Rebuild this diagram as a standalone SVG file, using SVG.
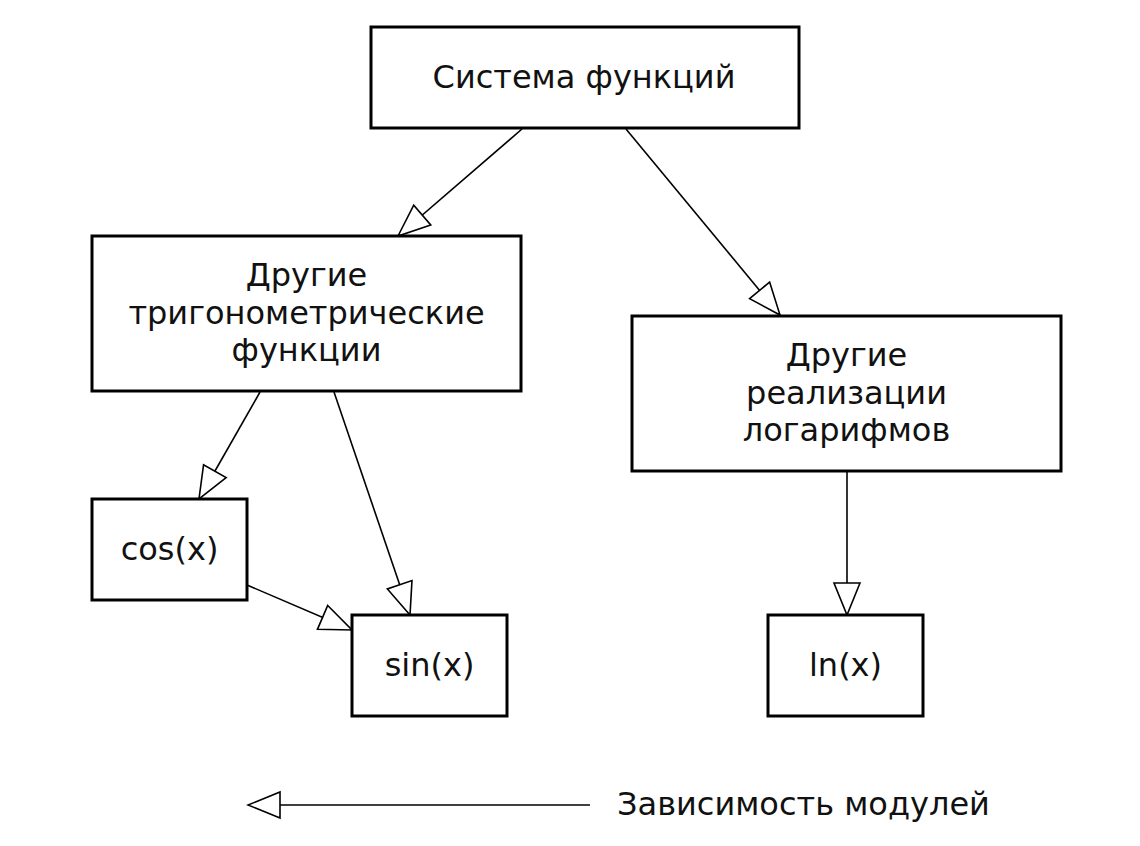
<svg xmlns="http://www.w3.org/2000/svg" width="1140" height="846" viewBox="0 0 1140 846">
<style>
.box{fill:#fff;stroke:#000;stroke-width:3}
.lbl{font-family:"DejaVu Sans",sans-serif;font-size:32px;fill:#111;text-anchor:middle}
.edge{fill:none;stroke:#000;stroke-width:1.6;marker-end:url(#arr)}
</style>
<defs>
<marker id="arr" markerUnits="userSpaceOnUse" viewBox="-2 -2 36 30" markerWidth="36" markerHeight="30" refX="32" refY="13" orient="auto">
<path d="M0,0 L32,13 L0,26 Z" fill="#fff" stroke="#000" stroke-width="1.6"/>
</marker>
</defs>
<rect width="1140" height="846" fill="#fff"/>
<g id="connectors">
<path class="edge" d="M522,129 L398,236"/>
<path class="edge" d="M626,129 L780,315"/>
<path class="edge" d="M260,392 L199,499"/>
<path class="edge" d="M334,392 L410,615"/>
<path class="edge" d="M247,585 L352,630"/>
<path class="edge" d="M847,472 L847,615"/>
</g>
<g id="n-system">
<rect class="box" x="371" y="27" width="428" height="101"/>
<text class="lbl" x="584" y="88">Система функций</text>
</g>
<g id="n-trig">
<rect class="box" x="92" y="236" width="429" height="155"/>
<text class="lbl" x="306.5" y="286">Другие</text>
<text class="lbl" x="306.5" y="324">тригонометрические</text>
<text class="lbl" x="306.5" y="361">функции</text>
</g>
<g id="n-log">
<rect class="box" x="632" y="316" width="429" height="155"/>
<text class="lbl" x="846.5" y="366">Другие</text>
<text class="lbl" x="846.5" y="404">реализации</text>
<text class="lbl" x="846.5" y="441">логарифмов</text>
</g>
<g id="n-cos">
<rect class="box" x="92" y="499" width="155" height="101"/>
<text class="lbl" x="169.5" y="560">cos(x)</text>
</g>
<g id="n-sin">
<rect class="box" x="352" y="615" width="155" height="101"/>
<text class="lbl" x="429.5" y="676">sin(x)</text>
</g>
<g id="n-ln">
<rect class="box" x="768" y="615" width="155" height="101"/>
<text class="lbl" x="845.5" y="676">ln(x)</text>
</g>
<g id="legend">
<path class="edge" d="M590,805 L248,805"/>
<text class="lbl" x="617" y="815" style="text-anchor:start">Зависимость модулей</text>
</g>
</svg>
